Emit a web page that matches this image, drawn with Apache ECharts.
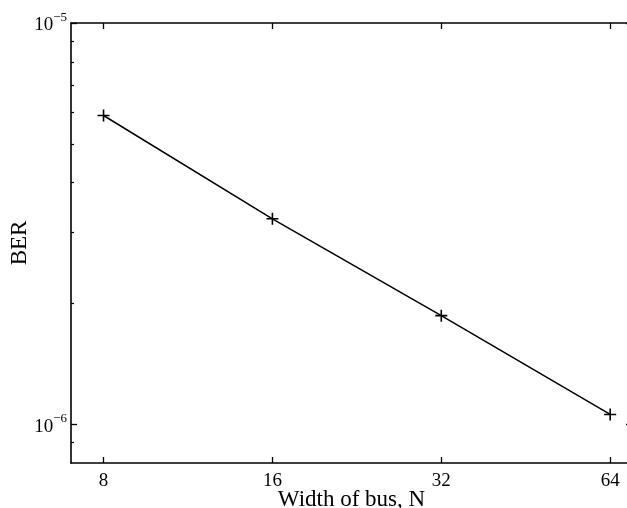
<!DOCTYPE html>
<html>
<head>
<meta charset="utf-8">
<script src="https://cdn.jsdelivr.net/npm/echarts@6/dist/echarts.min.js"></script>
<style>
html,body{margin:0;padding:0;background:#fff;}
#chart{width:627px;height:508px;}
</style>
</head>
<body>
<div id="chart"></div>
<script>
// Data
const busWidths = [8, 16, 32, 64];
const berValues = [5.88e-6, 3.25e-6, 1.864e-6, 1.057e-6];
const xTickValues = [8, 16, 32, 64];
const yMajorTicks = [1e-6, 1e-5];
const yMinorTicks = [9e-7, 2e-6, 3e-6, 4e-6, 5e-6, 6e-6, 7e-6, 8e-6, 9e-6];
const xName = 'Width of bus, N';
const yName = 'BER';

const xMin = 7, xMax = 70;
const yMin = 8e-7, yMax = 1e-5;
const serif = 'Liberation Serif';

const chart = echarts.init(document.getElementById('chart'), null, {renderer: 'canvas'});

function yLabel(v) {
  const e = Math.round(Math.log10(v));
  return '{b|10}{s|' + (e < 0 ? '\u2212' + (-e) : e) + '}';
}

const lineStyle = {color: '#000', width: 1.6};

const option = {
  backgroundColor: '#fff',
  animation: false,
  grid: {left: 71, top: 23, width: 561, height: 440, containLabel: false, outerBoundsMode: 'none'},
  xAxis: [
    {
      type: 'log', logBase: 2, min: xMin, max: xMax, position: 'bottom',
      name: xName, nameLocation: 'middle', nameGap: 25, nameMoveOverlap: false,
      nameTextStyle: {fontFamily: serif, fontSize: 23, color: '#000'},
      axisLine: {show: true, lineStyle: lineStyle},
      axisTick: {show: true, inside: true, length: 6, customValues: xTickValues, lineStyle: {color: '#000', width: 1.3}},
      axisLabel: {show: true, customValues: xTickValues, margin: 9, fontFamily: serif, fontSize: 19, color: '#000'},
      splitLine: {show: false}, minorTick: {show: false}
    },
    {
      type: 'log', logBase: 2, min: xMin, max: xMax, position: 'top',
      axisLine: {show: true, lineStyle: lineStyle},
      axisTick: {show: true, inside: true, length: 6, customValues: xTickValues, lineStyle: {color: '#000', width: 1.3}},
      axisLabel: {show: false},
      splitLine: {show: false}
    }
  ],
  yAxis: [
    {
      type: 'log', logBase: 10, min: yMin, max: yMax, position: 'left',
      name: yName, nameLocation: 'middle', nameGap: 40, nameRotate: 90, nameMoveOverlap: false,
      nameTextStyle: {fontFamily: serif, fontSize: 23, color: '#000'},
      axisLine: {show: true, lineStyle: lineStyle},
      axisTick: {show: true, inside: true, length: 6, customValues: yMajorTicks, lineStyle: {color: '#000', width: 1.3}},
      axisLabel: {
        show: true, customValues: yMajorTicks, margin: 4, formatter: yLabel,
        rich: {
          b: {fontFamily: serif, fontSize: 19, color: '#000', lineHeight: 24, verticalAlign: 'bottom'},
          s: {fontFamily: serif, fontSize: 13, color: '#000', lineHeight: 13, verticalAlign: 'top'}
        }
      },
      splitLine: {show: false}
    },
    {
      type: 'log', logBase: 10, min: yMin, max: yMax, position: 'left',
      axisLine: {show: false},
      axisTick: {show: true, inside: true, length: 3, customValues: yMinorTicks, lineStyle: {color: '#000', width: 1.2}},
      axisLabel: {show: false},
      splitLine: {show: false}
    },
    {
      type: 'log', logBase: 10, min: yMin, max: yMax, position: 'right',
      axisLine: {show: true, lineStyle: lineStyle},
      axisTick: {show: true, inside: true, length: 6, customValues: yMajorTicks, lineStyle: {color: '#000', width: 1.3}},
      axisLabel: {show: false},
      splitLine: {show: false}
    }
  ],
  series: [{
    type: 'line',
    xAxisIndex: 0, yAxisIndex: 0,
    data: busWidths.map((w, i) => [w, berValues[i]]),
    lineStyle: {color: '#000', width: 1.5},
    itemStyle: {color: '#000'},
    symbol: 'path://M5.2,0H6.8V12H5.2Z M0,5.2H12V6.8H0Z',
    symbolSize: 12,
    showSymbol: true
  }]
};
chart.setOption(option);
</script>
</body>
</html>
